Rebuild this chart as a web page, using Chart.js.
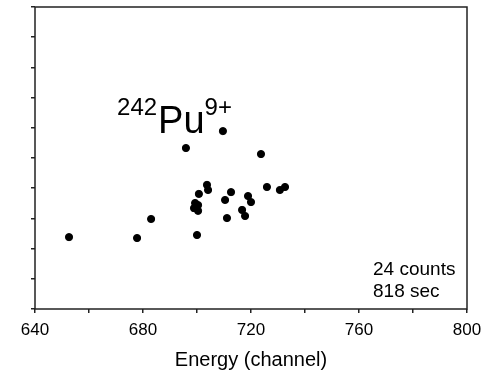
<!DOCTYPE html>
<html>
<head>
<meta charset="utf-8">
<script src="https://cdn.jsdelivr.net/npm/chart.js@4"></script>
<style>
  html, body { margin: 0; padding: 0; background: #fff; }
  #wrap { width: 492px; height: 376px; }
</style>
</head>
<body>
<div id="wrap"><canvas id="puChart" width="492" height="376"></canvas></div>
<script>
// energie (kanaal) en hoogte (willekeurige eenheid) van de 24 events
const energie = [652.6, 677.8, 683.0, 695.9, 700.0, 699.3, 700.4, 698.9, 700.4, 700.7, 703.7, 704.1,
  709.6, 710.4, 711.1, 712.6, 716.7, 717.8, 718.9, 720.0, 723.7, 725.9, 730.7, 732.6];
const hoogte = [2.38, 2.35, 2.98, 5.33, 2.45, 3.51, 3.44, 3.34, 3.25, 3.81, 4.11, 3.94,
  5.89, 3.61, 3.01, 3.87, 3.28, 3.08, 3.74, 3.54, 5.13, 4.04, 3.94, 4.04];
const xLabels = [640, 680, 720, 760, 800];
const infoRegels = ["24 counts", "818 sec"];

const punten = energie.map((x, i) => ({ x, y: hoogte[i] }));
const font = "'Liberation Sans', Arial, sans-serif";

const kaderPlugin = {
  id: "kader",
  afterDraw(chart) {
    const { ctx, chartArea: a, scales } = chart;
    ctx.save();
    ctx.strokeStyle = "#222";
    ctx.lineWidth = 1.5;
    ctx.strokeRect(a.left, a.top, a.right - a.left, a.bottom - a.top);

    // ionlabel 242Pu9+
    const px = scales.x.getPixelForValue(685.6);
    const py = scales.y.getPixelForValue(5.83);
    ctx.fillStyle = "#000";
    ctx.textBaseline = "alphabetic";
    ctx.font = "38px " + font;
    ctx.textAlign = "left";
    ctx.fillText("Pu", px, py);
    const puBreed = ctx.measureText("Pu").width;
    ctx.font = "24px " + font;
    ctx.textAlign = "right";
    ctx.fillText("242", px - 1, py - 18);
    ctx.textAlign = "left";
    ctx.fillText("9+", px + puBreed, py - 18);

    // telinfo rechtsonder
    ctx.font = "19px " + font;
    const ix = scales.x.getPixelForValue(765.2);
    infoRegels.forEach((r, i) => {
      ctx.fillText(r, ix, scales.y.getPixelForValue(1.12) + i * 22);
    });
    ctx.restore();
  },
};

new Chart(document.getElementById("puChart"), {
  type: "scatter",
  data: {
    datasets: [{
      data: punten,
      backgroundColor: "#000",
      borderColor: "#000",
      pointRadius: 3.6,
      pointHoverRadius: 3.6,
    }],
  },
  options: {
    responsive: false,
    animation: false,
    layout: { padding: { left: 31, top: 7, right: 25, bottom: 0 } },
    plugins: { legend: { display: false }, tooltip: { enabled: false } },
    scales: {
      x: {
        min: 640,
        max: 800,
        border: { display: false },
        grid: { drawOnChartArea: false, tickLength: 4, color: "#222", lineWidth: 1.5 },
        ticks: {
          stepSize: 20,
          autoSkip: false,
          maxRotation: 0,
          padding: 7,
          color: "#000",
          font: { family: font, size: 17 },
          callback: (v) => (xLabels.includes(v) ? String(v) : ""),
        },
        title: {
          display: true,
          text: "Energy (channel)",
          color: "#000",
          font: { family: font, size: 20 },
          padding: { top: 0, bottom: 4 },
        },
        afterFit: (s) => { s.height = 67; },
      },
      y: {
        min: 0,
        max: 10,
        border: { display: false },
        grid: { drawOnChartArea: false, tickLength: 4, color: "#222", lineWidth: 1.5 },
        ticks: { stepSize: 1, display: false },
        afterFit: (s) => { s.width = 4; },
      },
    },
  },
  plugins: [kaderPlugin],
});
</script>
</body>
</html>
